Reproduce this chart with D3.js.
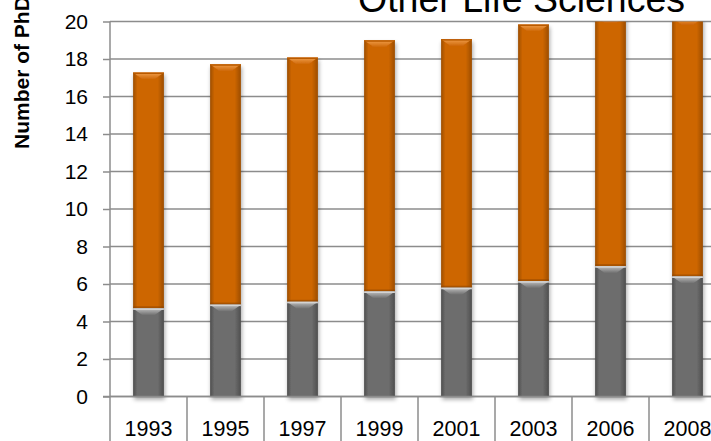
<!DOCTYPE html>
<html>
<head>
<meta charset="utf-8">
<script src="https://cdn.jsdelivr.net/npm/d3@7"></script>
<style>
  html, body { margin: 0; padding: 0; background: #fff; overflow: hidden; }
  svg { display: block; }
</style>
</head>
<body>
<svg id="chart" width="711" height="441"></svg>
<script>
// Survey years on the category axis
const years = ["1993", "1995", "1997", "1999", "2001", "2003", "2006", "2008"];
// Lower (gray) stack segment, number of PhDs
const lowerValues = [4.7, 4.9, 5.05, 5.6, 5.8, 6.15, 6.95, 6.4];
// Upper (orange) stack segment, number of PhDs
const upperValues = [12.58, 12.82, 13.03, 13.4, 13.26, 13.69, 13.35, 13.8];
// Value axis ticks
const yTicks = [0, 2, 4, 6, 8, 10, 12, 14, 16, 18, 20];

const svg = d3.select("#chart");
const W = 711, H = 441;
const plotLeft = 110, plotTop = 21.5, plotBottom = 396.5, plotRight = 726;

const x = d3.scaleBand().domain(years).range([plotLeft, plotRight]).padding(0);
const y = d3.scaleLinear().domain([0, 20]).range([plotBottom, plotTop]);

const gridColor = "#8c8c8c";
const font = "'Liberation Sans', Arial, sans-serif";

const defs = svg.append("defs");

// Horizontal shading to give the bars a rounded look
function sideGrad(id, edge, mid) {
  const g = defs.append("linearGradient").attr("id", id)
    .attr("x1", "0%").attr("x2", "100%").attr("y1", "0%").attr("y2", "0%");
  g.append("stop").attr("offset", "0%").attr("stop-color", edge);
  g.append("stop").attr("offset", "14%").attr("stop-color", mid);
  g.append("stop").attr("offset", "80%").attr("stop-color", mid);
  g.append("stop").attr("offset", "100%").attr("stop-color", edge);
}
sideGrad("grayBody", "#4e4e4e", "#6d6d6d");
sideGrad("orangeBody", "#9c4d00", "#cd6606");

function bevelGrad(id, light, base) {
  const g = defs.append("linearGradient").attr("id", id)
    .attr("x1", "0%").attr("x2", "0%").attr("y1", "0%").attr("y2", "100%");
  g.append("stop").attr("offset", "0%").attr("stop-color", light);
  g.append("stop").attr("offset", "100%").attr("stop-color", base);
}
bevelGrad("grayBevel", "#c8c8c8", "#6d6d6d");
bevelGrad("orangeBevel", "#f5a553", "#cd6606");

const shadow = defs.append("filter").attr("id", "barShadow")
  .attr("x", "-30%").attr("y", "-10%").attr("width", "160%").attr("height", "130%");
shadow.append("feGaussianBlur").attr("in", "SourceAlpha").attr("stdDeviation", 2.2);
shadow.append("feOffset").attr("dx", 1).attr("dy", 3).attr("result", "off");
shadow.append("feComponentTransfer").append("feFuncA").attr("type", "linear").attr("slope", 0.35);
const merge = shadow.append("feMerge");
merge.append("feMergeNode");
merge.append("feMergeNode").attr("in", "SourceGraphic");

defs.append("clipPath").attr("id", "plotClip")
  .append("rect").attr("x", plotLeft).attr("y", plotTop)
  .attr("width", W - plotLeft).attr("height", H - plotTop);

// Gridlines and value axis
const yAxis = d3.axisLeft(y).tickValues(yTicks).tickSize(7).tickPadding(15);
const gy = svg.append("g").attr("transform", `translate(${plotLeft},0)`).call(yAxis);
gy.select(".domain").remove();
gy.selectAll(".tick line").attr("stroke", gridColor).attr("stroke-width", 1.5);
gy.selectAll(".tick text").attr("font-family", font).attr("font-size", 21).attr("fill", "#000");

svg.append("g").selectAll("line").data(yTicks).join("line")
  .attr("x1", plotLeft).attr("x2", W).attr("y1", d => y(d)).attr("y2", d => y(d))
  .attr("stroke", gridColor).attr("stroke-width", 1.5);

// Bars
const bars = svg.append("g").attr("clip-path", "url(#plotClip)")
  .append("g").attr("filter", "url(#barShadow)");
const barW = x.bandwidth() * 0.4;

function drawSegment(g, cx, v0, v1, body, bevel, topLine) {
  const x0 = cx - barW / 2, x1 = cx + barW / 2;
  const yt = y(v1), yb = y(v0);
  g.append("rect").attr("x", x0).attr("y", yt).attr("width", barW).attr("height", yb - yt)
    .attr("fill", `url(#${body})`);
  const inset = barW * 0.32, depth = 7;
  g.append("path")
    .attr("d", `M${x0},${yt}L${x1},${yt}L${x1 - inset},${yt + depth}L${x0 + inset},${yt + depth}Z`)
    .attr("fill", `url(#${bevel})`).attr("opacity", 0.9);
  g.append("line").attr("x1", x0).attr("x2", x1).attr("y1", yt + 0.75).attr("y2", yt + 0.75)
    .attr("stroke", topLine).attr("stroke-width", 1.5);
}

years.forEach((yr, i) => {
  const cx = x(yr) + x.bandwidth() / 2;
  const g = bars.append("g");
  const lo = lowerValues[i], hi = lowerValues[i] + upperValues[i];
  drawSegment(g, cx, lo, hi, "orangeBody", "orangeBevel", "#b85a00");
  // subtle dark rim under the orange segment
  g.append("rect").attr("x", cx - barW / 2).attr("y", y(lo) - 2).attr("width", barW).attr("height", 2)
    .attr("fill", "#8a4400").attr("opacity", 0.55);
  drawSegment(g, cx, 0, lo, "grayBody", "grayBevel", "#d4d4d4");
});

// Category axis line and separators
svg.append("line").attr("x1", plotLeft - 7).attr("x2", W).attr("y1", plotBottom).attr("y2", plotBottom)
  .attr("stroke", gridColor).attr("stroke-width", 1.5);
svg.append("line").attr("x1", plotLeft).attr("x2", plotLeft).attr("y1", plotTop).attr("y2", H)
  .attr("stroke", gridColor).attr("stroke-width", 1.5);
svg.append("g").selectAll("line").data(years.slice(1)).join("line")
  .attr("x1", d => x(d)).attr("x2", d => x(d)).attr("y1", plotBottom).attr("y2", H)
  .attr("stroke", gridColor).attr("stroke-width", 1.5);

svg.append("g").selectAll("text").data(years).join("text")
  .attr("x", d => x(d) + x.bandwidth() / 2).attr("y", 436)
  .attr("text-anchor", "middle").attr("font-family", font).attr("font-size", 21.5)
  .attr("fill", "#000").text(d => d);

// Title
svg.append("text").attr("x", 358).attr("y", 12)
  .attr("font-family", font).attr("font-size", 38).attr("fill", "#000")
  .attr("textLength", 327).attr("lengthAdjust", "spacingAndGlyphs")
  .text("Other Life Sciences");

// Value axis title
svg.append("text").attr("transform", "translate(29,149) rotate(-90)")
  .attr("font-family", font).attr("font-size", 21).attr("font-weight", "bold")
  .attr("fill", "#000")
  .text("Number of PhDs");
</script>
</body>
</html>
